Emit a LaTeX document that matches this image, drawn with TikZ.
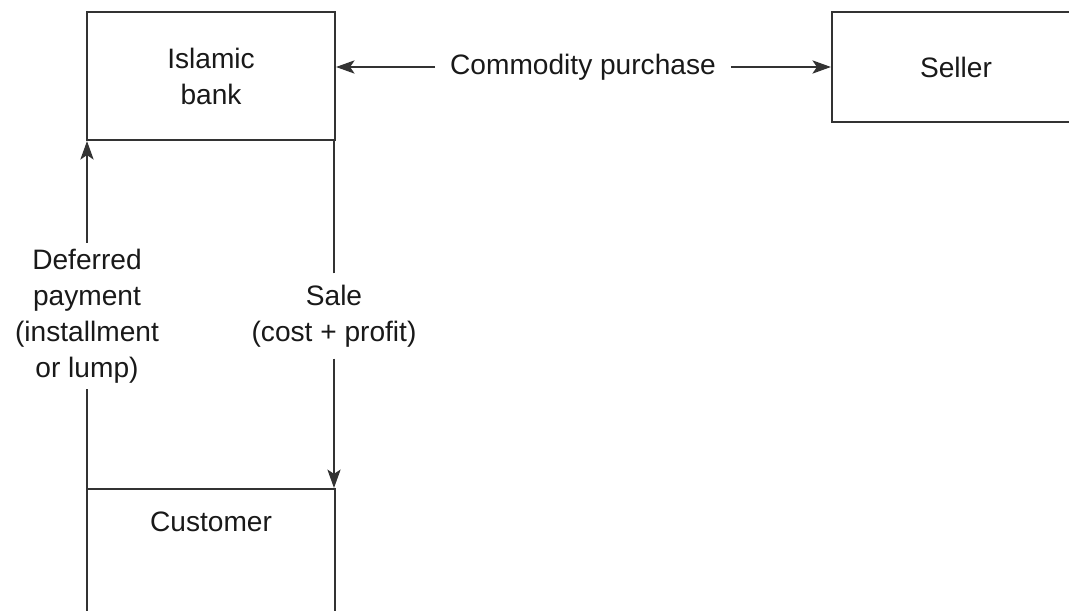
\documentclass[tikz,border=0pt]{standalone}
\usepackage{fontspec}
\setmainfont{Liberation Sans}
\usetikzlibrary{arrows.meta}

\tikzset{
	party/.style={draw, rectangle, align=center, minimum width=248*0.02cm},
	flow/.style={align=center, inner xsep=8pt, inner ysep=3pt}
}

\begin{document}
\begin{tikzpicture}[x=0.02cm, y=-0.02cm, line width=1.2pt, draw=black!80, text=black!90,
	font=\fontsize{16}{20.5}\selectfont, >={Stealth[length=10.5pt,width=7.5pt,inset=2.5pt]}]

		\useasboundingbox (0,0) rectangle (1069,611);
		\clip (0,0) rectangle (1069,611);

		\node (bank) at (211,76) [party, minimum height=128*0.02cm] {Islamic\\bank};
		\node (seller) at (982,67) [party, minimum width=300*0.02cm, minimum height=110*0.02cm] {};
		\node (sellerlabel) at (956,67) {Seller};
		\node (customer) at (211,488) [party, anchor=north, minimum height=160*0.02cm] {};
		\node (customerlabel) at (211,522) {Customer};

		\node (purchase) at (583,67) [flow] {Commodity purchase};
		\node (deferred) at (87,316) [flow] {Deferred\\payment\\(installment\\or lump)};
		\node (sale) at (334,316) [flow, inner ysep=6pt] {Sale\\(cost + profit)};

		% commodity purchase, both ways
		\draw [->] (purchase.west) -- (purchase.west -| bank.east);
		\draw [->] (purchase.east) -- (seller.west);

		% customer pays the bank
		\draw [->] (deferred.north) -- (deferred.north |- bank.south);
		\draw (deferred.south) -- (deferred.south |- customer.north);

		% bank sells to customer
		\draw (sale.north) -- (sale.north |- bank.south);
		\draw [->] (sale.south) -- (sale.south |- customer.north);
	\end{tikzpicture}
\end{document}
